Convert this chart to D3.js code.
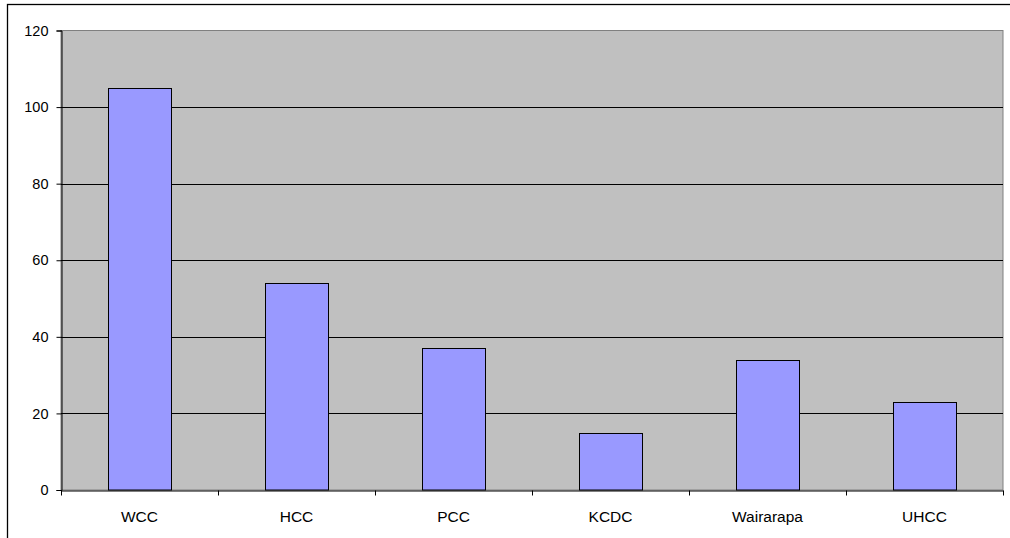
<!DOCTYPE html>
<html><head><meta charset="utf-8">
<script src="https://cdn.jsdelivr.net/npm/d3@7"></script>
<style>body{margin:0;background:#fff;}svg{display:block;font-family:Arial,"Liberation Sans",sans-serif;}</style>
</head><body><svg id="c" width="1010" height="538"></svg>
<script>
const categories = ["WCC","HCC","PCC","KCDC","Wairarapa","UHCC"];
const values = [105, 54, 37, 15, 34, 23];
const yTicks = [0,20,40,60,80,100,120];

const svg = d3.select("#c");
const L = 61, R = 1003, T = 30.5, B = 490;
// outer chart border
svg.append("rect").attr("x",7.5).attr("y",4.5).attr("width",1010).attr("height",560)
  .attr("fill","#fff").attr("stroke","#000").attr("stroke-width",1.3);

const x = d3.scaleBand().domain(categories).range([L,R]).padding(0);
const y = d3.scaleLinear().domain([0,120]).range([B,T]);

// plot area
svg.append("rect").attr("x",L).attr("y",T).attr("width",R-L).attr("height",B-T)
  .attr("fill","#c0c0c0").attr("stroke","#808080").attr("stroke-width",1);

// gridlines
svg.append("g").selectAll("line").data(yTicks.filter(d=>d>0 && d<120)).join("line")
  .attr("x1",L).attr("x2",R).attr("y1",d=>Math.round(y(d))+0.5).attr("y2",d=>Math.round(y(d))+0.5)
  .attr("stroke","#000").attr("stroke-width",1);

// bars
const bw = x.bandwidth()*0.4;
svg.append("g").selectAll("rect").data(values).join("rect")
  .attr("x",(d,i)=>Math.round(x(categories[i]) + (x.bandwidth()-bw)/2)+0.5)
  .attr("width",Math.round(bw))
  .attr("y",d=>Math.round(y(d))+0.5)
  .attr("height",d=>B-Math.round(y(d))-0.5)
  .attr("fill","#9999ff").attr("stroke","#000").attr("stroke-width",1);

// y axis
const ya = d3.axisLeft(y).tickValues(yTicks).tickSize(5).tickPadding(8).tickFormat(d3.format("d"));
const gy = svg.append("g").attr("transform",`translate(${L+0.5},0)`).call(ya);
gy.select(".domain").attr("stroke","#000");
gy.selectAll(".tick line").attr("stroke","#000");
gy.selectAll("text").attr("font-size",14.5).attr("fill","#000").attr("font-family","Arial, 'Liberation Sans', sans-serif");

// x axis
const xa = d3.axisBottom(x).tickSize(0).tickPadding(20);
const gx = svg.append("g").attr("transform",`translate(0,${B+0.5})`).call(xa);
gx.select(".domain").attr("stroke","#000");
gx.selectAll("text").attr("font-size",15.5).attr("fill","#000").attr("font-family","Arial, 'Liberation Sans', sans-serif");
// boundary ticks
const bounds = categories.map(c=>x(c)).concat([R]);
gx.append("g").selectAll("line").data(bounds).join("line")
  .attr("x1",d=>Math.round(d)+0.5).attr("x2",d=>Math.round(d)+0.5).attr("y1",0).attr("y2",5)
  .attr("stroke","#000");
</script></body></html>
